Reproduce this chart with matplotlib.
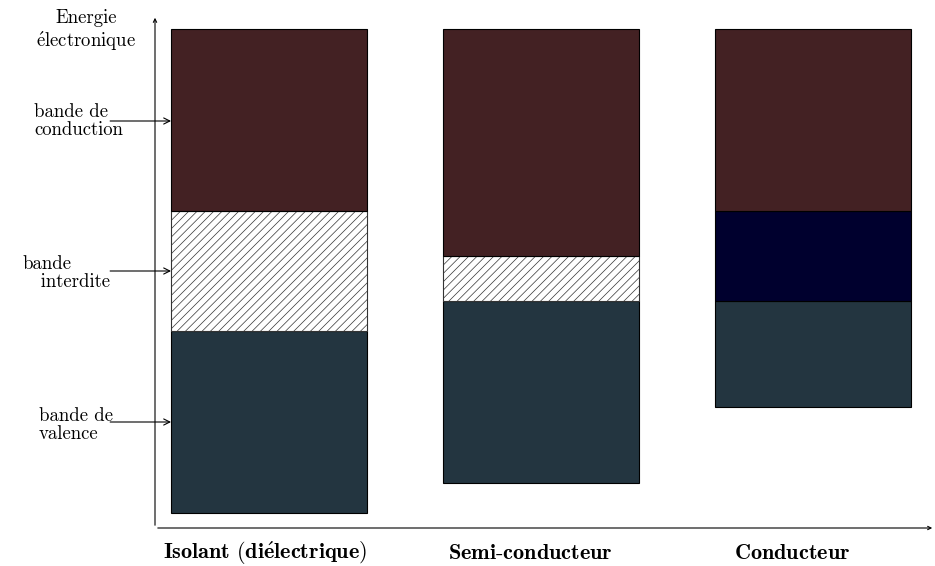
import matplotlib.pyplot as plt

plt.rcParams['font.family'] = ['cmr10', 'DejaVu Serif']
plt.rcParams['mathtext.fontset'] = 'cm'
plt.rcParams['hatch.linewidth'] = 0.5
plt.rcParams['axes.unicode_minus'] = False

# energy levels (arbitrary units, 0 = horizontal axis)
materials = [r'$\mathbf{Isolant\ (di\acute{e}lectrique)}$',
             r'$\mathbf{Semi}$-$\mathbf{conducteur}$',
             r'$\mathbf{Conducteur}$']
valence_bottom = [15, 45, 121]
valence_top = [197, 227, 227]
gap_top = [317, 272, 317]   # top of gap / overlap zone
band_top = [499, 499, 499]
overlap = [False, False, True]

c_cond = '#432123'
c_val = '#233540'
c_overlap = '#00002e'

W, H = 935, 566


def fx(px):
    return px / W


def fy(py):
    return 1 - py / H


fig = plt.figure(figsize=(W / 100, H / 100), dpi=100)
ax = fig.add_axes([fx(155), fy(528), 780 / W, 513 / H])
ax.set_xlim(-0.419, 2.449)
ax.set_ylim(0, 513)

w = 0.72
for i in range(len(materials)):
    ax.bar(i, valence_top[i] - valence_bottom[i], w, bottom=valence_bottom[i],
           color=c_val, edgecolor='black', linewidth=0.8)
    if overlap[i]:
        ax.bar(i, gap_top[i] - valence_top[i], w, bottom=valence_top[i],
               color=c_overlap, edgecolor='black', linewidth=0.8)
    else:
        ax.bar(i, gap_top[i] - valence_top[i], w, bottom=valence_top[i],
               color='white', edgecolor='#333333', linewidth=0.8, hatch='////')
    ax.bar(i, band_top[i] - gap_top[i], w, bottom=gap_top[i],
           color=c_cond, edgecolor='black', linewidth=0.8)

for s in ax.spines.values():
    s.set_visible(False)
ax.set_xticks([])
ax.set_yticks([])

# axes with arrows
ax.annotate('', xy=(0, 1.0), xytext=(0, 0), xycoords='axes fraction',
            arrowprops=dict(arrowstyle='->', lw=0.8, color='black', mutation_scale=6))
ax.annotate('', xy=(1.0, 0), xytext=(0, 0), xycoords='axes fraction',
            arrowprops=dict(arrowstyle='->', lw=0.8, color='black', mutation_scale=6))

fs = 13.5
fig.text(fx(86), fy(31), 'Energie\n' + r'$\mathrm{\acute{e}lectronique}$', ha='center',
         va='center', fontsize=fs, linespacing=1.15)

# band labels with arrows pointing to the first column
band_names = ['bande de\nconduction', 'bande\n   interdite', 'bande de\nvalence']
band_level = [407, 257, 106]
text_pos = [(123, 121), (110, 273), (113, 425)]
for txt, lvl, (tx, ty) in zip(band_names, band_level, text_pos):
    fig.text(fx(tx), fy(ty), txt, ha='right', va='center', fontsize=fs,
             linespacing=1.0, multialignment='left')
    ax.annotate('', xy=(-0.36, lvl), xytext=(-0.584, lvl), annotation_clip=False,
                arrowprops=dict(arrowstyle='->', lw=0.8, color='black',
                                mutation_scale=11, shrinkA=0, shrinkB=0))

# bottom labels
label_x = [265, 530, 792]
for name, x in zip(materials, label_x):
    fig.text(fx(x), fy(553), name, ha='center', va='center', fontsize=16)

fig.savefig('out.png', dpi=100)
